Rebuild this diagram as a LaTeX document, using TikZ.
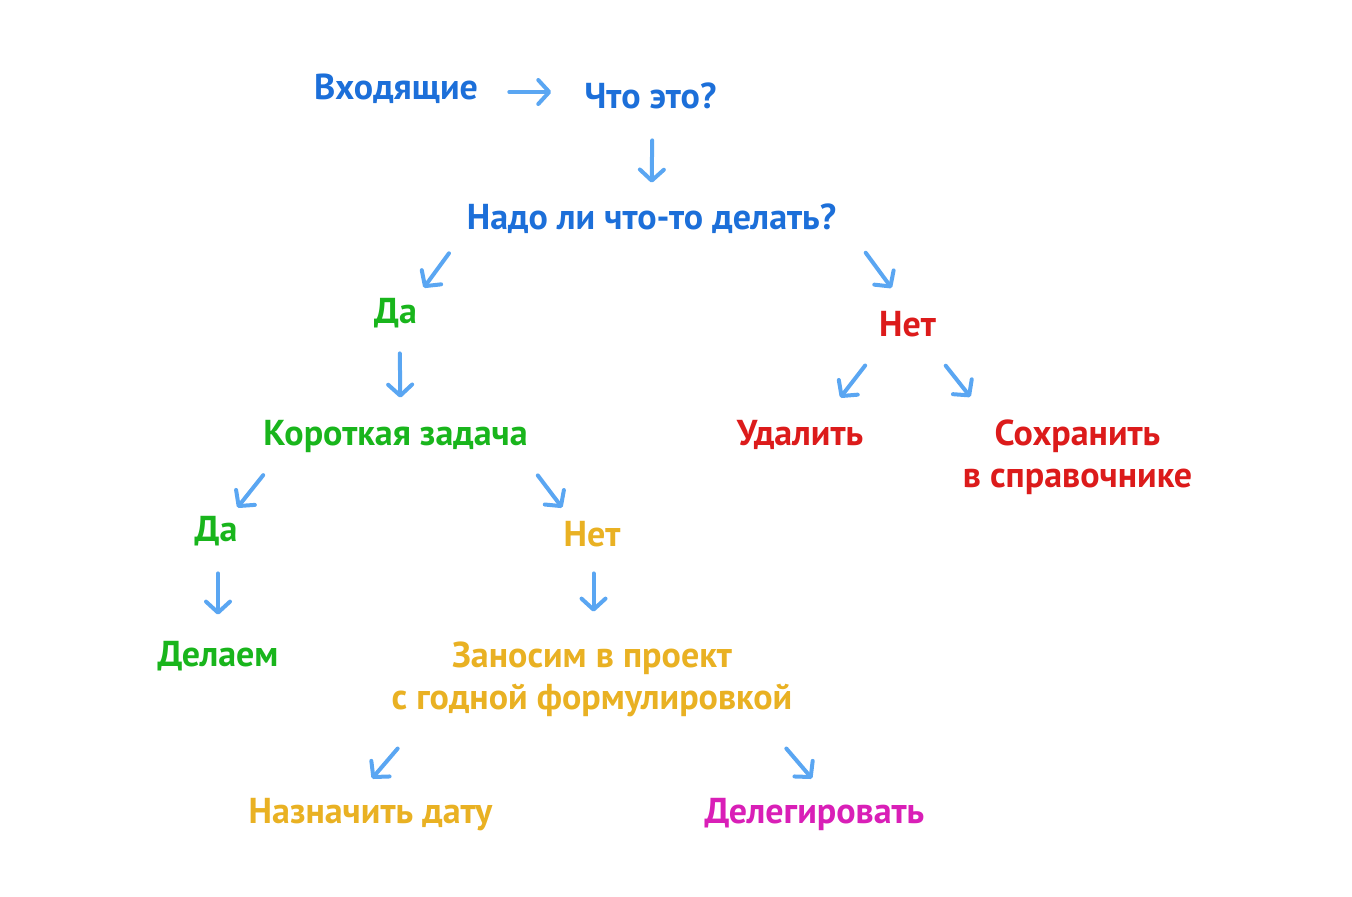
\documentclass[tikz,border=0pt]{standalone}
\usepackage{fontspec}
\setmainfont{PT Sans}
\usetikzlibrary{arrows.meta}

\definecolor{inkblue}{HTML}{1C6FD9}
\definecolor{arrowblue}{HTML}{5AA6F2}
\definecolor{inkgreen}{HTML}{19B51C}
\definecolor{inkyellow}{HTML}{E9B123}
\definecolor{inkred}{HTML}{DC1B1B}
\definecolor{inkpink}{HTML}{D91FB7}

\begin{document}
\begin{tikzpicture}[font=\fontsize{18}{21}\selectfont\bfseries]
\tikzstyle{lbl} = [inner sep=0pt, text height=13pt, text depth=0pt]
\tikzstyle{lbl2} = [inner sep=0pt, align=center]
\tikzstyle{arrow} = [line width=2pt, line cap=round, draw=arrowblue, -{Straight Barb[length=5.5pt, width=12pt, round]}]

\useasboundingbox (0,0) rectangle (676pt,-448pt);

\node (in) [lbl, text=inkblue] at (198pt,-43pt) {Входящие};
\node (what) [lbl, text=inkblue, right of=in, node distance=127.25pt, yshift=-4.75pt] {Что это?};
\node (need) [lbl, text=inkblue, below of=what, node distance=60.25pt, xshift=0.5pt] {Надо ли что-то делать?};

\node (yes1) [lbl, text=inkgreen, below of=need, node distance=47pt, xshift=-128pt] {Да};
\node (no1) [lbl, text=inkred, below of=need, node distance=53.5pt, xshift=128pt] {Нет};

\node (short) [lbl, text=inkgreen, below of=yes1, node distance=61pt] {Короткая задача};
\node (del) [lbl, text=inkred, below of=no1, node distance=54.5pt, xshift=-53.75pt] {Удалить};
\node (keep) [lbl2, text=inkred, below of=no1, node distance=67.25pt, xshift=85pt] {Сохранить\\в справочнике};

\node (yes2) [lbl, text=inkgreen, below of=short, node distance=48pt, xshift=-89.75pt] {Да};
\node (no2) [lbl, text=inkyellow, below of=short, node distance=50.5pt, xshift=98.25pt] {Нет};
\node (do) [lbl, text=inkgreen, below of=yes2, node distance=62.5pt, xshift=1pt] {Делаем};
\node (proj) [lbl2, text=inkyellow, below of=no2, node distance=73.25pt] {Заносим в проект\\с годной формулировкой};

\node (date) [lbl, text=inkyellow, below of=proj, node distance=65.25pt, xshift=-110.75pt] {Назначить дату};
\node (deleg) [lbl, text=inkpink, below of=proj, node distance=65.25pt, xshift=111.25pt] {Делегировать};

\draw [arrow, shorten <=15.5pt, shorten >=16.5pt] ([yshift=-3pt]in.east) -- ([yshift=1.75pt]what.west);
\draw [arrow, shorten <=15.75pt, shorten >=10pt] ([xshift=1pt]what.south) -- (need.north);
\draw [arrow, shorten <=14.8pt, shorten >=5.5pt] (need.south west) -- (yes1.north east);
\draw [arrow, shorten <=14.5pt, shorten >=13.4pt] ([xshift=6pt]need.south east) -- (no1.north);
\draw [arrow, shorten <=15pt, shorten >=10.5pt] ([xshift=2pt]yes1.south) -- ([xshift=2.5pt]short.north);
\draw [arrow, shorten <=18.4pt, shorten >=13.3pt] ([xshift=4.5pt]no1.south west) -- ([xshift=12pt]del.north);
\draw [arrow, shorten <=18.7pt, shorten >=14.5pt] ([xshift=7.5pt]no1.south) -- ([xshift=13pt]keep.north west);
\draw [arrow, shorten <=19pt, shorten >=4.5pt] ([xshift=12pt]short.south west) -- ([xshift=-3pt]yes2.north east);
\draw [arrow, shorten <=18.8pt, shorten >=7.5pt] ([xshift=-6.5pt]short.south east) -- ([xshift=4pt]no2.north west);
\draw [arrow, shorten <=16pt, shorten >=12.5pt] ([xshift=1pt]yes2.south) -- (do.north);
\draw [arrow, shorten <=13.5pt, shorten >=15pt] ([xshift=0.75pt]no2.south) -- ([xshift=0.75pt]proj.north);
\draw [arrow, shorten <=20.5pt, shorten >=11.9pt] ([xshift=16.5pt]proj.south west) -- ([xshift=-7pt]date.north);
\draw [arrow, shorten <=20.5pt, shorten >=11.9pt] ([xshift=-16.5pt]proj.south east) -- ([xshift=6.5pt]deleg.north);
\end{tikzpicture}
\end{document}
